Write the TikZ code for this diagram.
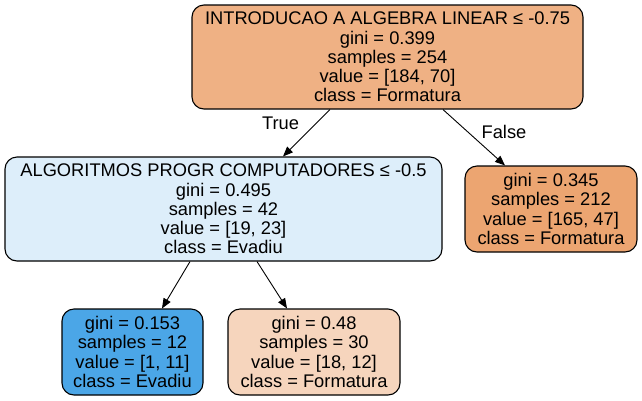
\documentclass[tikz,border=0pt]{standalone}
\usepackage{fontspec}
\setmainfont{Liberation Sans}
\usetikzlibrary{arrows.meta,calc}
\definecolor{cRoot}{HTML}{EFB184}
\definecolor{cLeft}{HTML}{DDEEFA}
\definecolor{cRight}{HTML}{ECA571}
\definecolor{cLeafA}{HTML}{4BA6E7}
\definecolor{cLeafB}{HTML}{F6D5BD}
\tikzset{
  treenode/.style={draw=black, line width=1.1pt, rounded corners=12pt, align=center,
    inner sep=0pt, font=\fontsize{18.3}{19.2}\selectfont},
  edge/.style={draw=black, line width=0.9pt, -{Triangle[length=10pt,width=8pt]}},
  elabel/.style={font=\fontsize{18.3}{19.2}\selectfont, inner sep=0pt}
}
\begin{document}
\begin{tikzpicture}[x=1pt,y=-1pt]
\useasboundingbox (0,0) rectangle (642,400);
\node[treenode, fill=cRoot, minimum width=391pt, minimum height=104pt] (root) at (387.5,57)
  {INTRODUCAO A ALGEBRA LINEAR ≤ -0.75\\gini = 0.399\\samples = 254\\value = [184, 70]\\class = Formatura};
\node[treenode, fill=cLeft, minimum width=437pt, minimum height=104pt] (left) at (223.5,209)
  {ALGORITMOS PROGR COMPUTADORES ≤ -0.5\\gini = 0.495\\samples = 42\\value = [19, 23]\\class = Evadiu};
\node[treenode, fill=cRight, minimum width=172pt, minimum height=86pt] (right) at (551,209)
  {gini = 0.345\\samples = 212\\value = [165, 47]\\class = Formatura};
\node[treenode, fill=cLeafA, minimum width=141pt, minimum height=86pt] (leafa) at (132.5,352)
  {gini = 0.153\\samples = 12\\value = [1, 11]\\class = Evadiu};
\node[treenode, fill=cLeafB, minimum width=172pt, minimum height=86pt] (leafb) at (314,352)
  {gini = 0.48\\samples = 30\\value = [18, 12]\\class = Formatura};
\draw[edge] ($(root.south)+(-57.5,0)$) -- ($(left.north)+(59.5,0)$);
\draw[edge] ($(root.south)+(55.5,0)$) -- ($(right.north)+(-46,0)$);
\draw[edge] ($(left.south)+(-33.5,0)$) -- ($(leafa.north)+(29.5,0)$);
\draw[edge] ($(left.south)+(33.5,0)$) -- ($(leafb.north)+(-27,0)$);
\node[elabel] (tlabel) at (280.5,123) {True};
\node[elabel] (flabel) at (504,132) {False};
\end{tikzpicture}
\end{document}
